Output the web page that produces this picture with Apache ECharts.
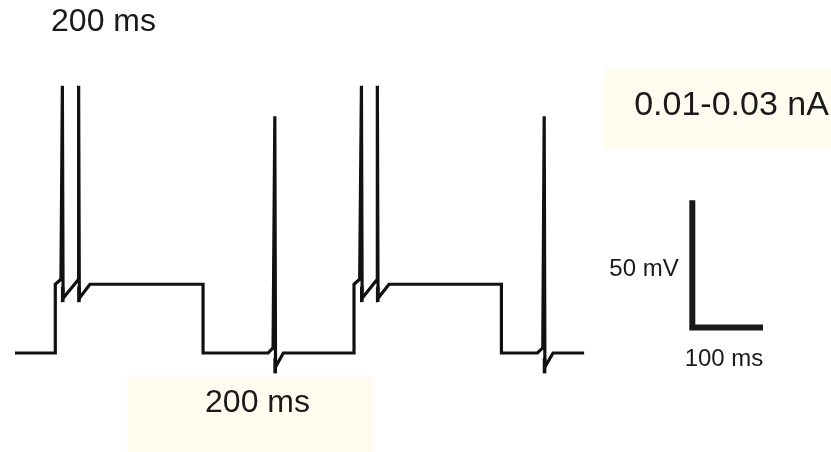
<!DOCTYPE html>
<html>
<head>
<meta charset="utf-8">
<script src="https://cdn.jsdelivr.net/npm/echarts@6/dist/echarts.min.js"></script>
<style>
  html, body { margin: 0; padding: 0; background: #fff; }
  #trace-chart { width: 831px; height: 452px; }
</style>
</head>
<body>
<div id="trace-chart"></div>
<script>
// membrane potential trace, two burst cycles (time in ms, potential in mV)
const traceMs = [
  0, 57, 57, 65, 67, 67, 68, 68, 90, 90, 91, 91, 106, 266, 266,
  358, 365, 367.5, 367.5, 368.5, 368.5, 379.5,
  479.5, 479.5, 487.5, 490, 490, 491, 491, 512.5, 512.5, 513.5, 513.5, 529, 688, 688,
  739, 746.5, 748.5, 748.5, 749.5, 749.5, 761, 805
];
const traceMv = [
  -70, -70, -43, -41, -41, 35, 35, -48.5, -41, 35, 35, -48.5, -43, -43, -70,
  -70, -68, -68, 23, 23, -75.5, -70,
  -70, -43, -41, -41, 35, 35, -48.5, -41, 35, 35, -48.5, -43, -43, -70,
  -70, -68, -68, 23, 23, -75.5, -70, -70
];
// lowest point of each spike (undershoot), drawn as a short tail
const spikeMs = [67.5, 90.5, 368, 490.5, 513, 749];
const spikeLowMv = [-50, -50, -78, -50, -50, -78];

// scale bar: 100 ms by 50 mV, corner at bottom left
const scaleCorner = [958, -60];
const scaleMs = 100;
const scaleMv = 50;

const labels = {
  top: '200 ms',
  bottom: '200 ms',
  current: '0.01-0.03 nA',
  volt: '50 mV',
  time: '100 ms'
};

const chartDom = document.getElementById('trace-chart');
const myChart = echarts.init(chartDom, null, { renderer: 'canvas' });

const font = "'Liberation Sans', Arial, sans-serif";
const ink = '#1a1a1a';
const boxFill = '#fffcef';

const traceData = traceMs.map((t, i) => [t, traceMv[i]]);
// each tail: from the spike body down to its undershoot
const tailSeries = spikeMs.map((t, i) => ({
  type: 'line',
  data: [[t, spikeLowMv[i] + 6], [t, spikeLowMv[i]]],
  showSymbol: false,
  clip: false,
  lineStyle: { color: '#111', width: 3.6, cap: 'butt' },
  z: 3
}));
const scaleData = [
  [scaleCorner[0], scaleCorner[1] + scaleMv],
  [scaleCorner[0], scaleCorner[1]],
  [scaleCorner[0] + scaleMs, scaleCorner[1]]
];

const option = {
  backgroundColor: '#fff',
  animation: false,
  grid: { left: 15, right: 38.3, top: 22, bottom: 22.6 },
  xAxis: {
    type: 'value', min: 0, max: 1100, show: false
  },
  yAxis: {
    type: 'value', min: -100, max: 60, show: false
  },
  graphic: [
    {
      type: 'rect', z: 0, silent: true,
      shape: { x: 127, y: 377, width: 246, height: 75 },
      style: { fill: boxFill }
    },
    {
      type: 'rect', z: 0, silent: true,
      shape: { x: 604, y: 69, width: 227, height: 79 },
      style: { fill: boxFill }
    },
    {
      type: 'text', x: 103.5, y: 22,
      style: { text: labels.top, fill: ink, font: '32px ' + font, textAlign: 'center', textVerticalAlign: 'middle' }
    },
    {
      type: 'text', x: 257.5, y: 403,
      style: { text: labels.bottom, fill: ink, font: '32px ' + font, textAlign: 'center', textVerticalAlign: 'middle' }
    },
    {
      type: 'text', x: 731.5, y: 106,
      style: { text: labels.current, fill: ink, font: '34px ' + font, textAlign: 'center', textVerticalAlign: 'middle' }
    },
    {
      type: 'text', x: 644, y: 269,
      style: { text: labels.volt, fill: ink, font: '24px ' + font, textAlign: 'center', textVerticalAlign: 'middle' }
    },
    {
      type: 'text', x: 724, y: 359,
      style: { text: labels.time, fill: ink, font: '24px ' + font, textAlign: 'center', textVerticalAlign: 'middle' }
    }
  ],
  series: [
    {
      type: 'line',
      data: traceData,
      showSymbol: false,
      clip: false,
      lineStyle: { color: '#111', width: 3.2, join: 'miter', cap: 'butt' },
      z: 3
    },
    ...tailSeries,
    {
      type: 'line',
      data: scaleData,
      showSymbol: false,
      clip: false,
      lineStyle: { color: ink, width: 6, join: 'miter', cap: 'butt' },
      z: 3
    }
  ]
};

myChart.setOption(option);

window.addEventListener('resize', () => {
  myChart.resize();
});
</script>
</body>
</html>
